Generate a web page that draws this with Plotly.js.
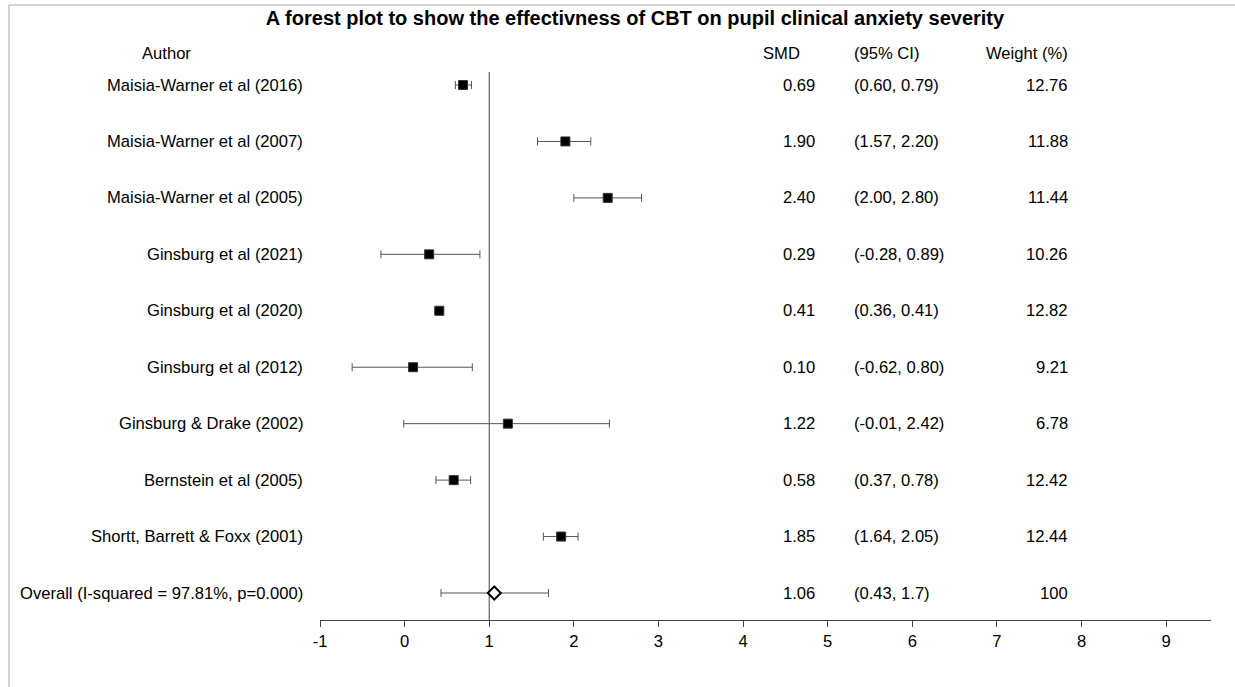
<!DOCTYPE html>
<html>
<head>
<meta charset="utf-8">
<script src="https://cdn.plot.ly/plotly-3.0.1.min.js"></script>
<style>
  html, body { margin: 0; padding: 0; background: #fff; }
  #chart { width: 1235px; height: 687px; }
</style>
</head>
<body>
<div id="chart"></div>
<script>
// ---- Data ----
const authors = [
  "Maisia-Warner et al (2016)",
  "Maisia-Warner et al (2007)",
  "Maisia-Warner et al (2005)",
  "Ginsburg et al (2021)",
  "Ginsburg et al (2020)",
  "Ginsburg et al (2012)",
  "Ginsburg & Drake (2002)",
  "Bernstein et al (2005)",
  "Shortt, Barrett & Foxx (2001)"
];
const smd    = [0.69, 1.90, 2.40, 0.29, 0.41, 0.10, 1.22, 0.58, 1.85];
const lower  = [0.60, 1.57, 2.00, -0.28, 0.36, -0.62, -0.01, 0.37, 1.64];
const upper  = [0.79, 2.20, 2.80, 0.89, 0.41, 0.80, 2.42, 0.78, 2.05];
const weight = [12.76, 11.88, 11.44, 10.26, 12.82, 9.21, 6.78, 12.42, 12.44];

const overallLabel = "Overall (I-squared = 97.81%, p=0.000)";
const overallSmd = 1.06;
const overallLower = 0.43;
const overallUpper = 1.7;
const overallWeight = 100;

const headers = { author: "Author", smd: "SMD", ci: "(95% CI)", weight: "Weight (%)" };
const tickVals = [-1, 0, 1, 2, 3, 4, 5, 6, 7, 8, 9];
const chartTitle = "A forest plot to show the effectivness of CBT on pupil clinical anxiety severity";

// ---- Layout helpers ----
const W = 1235, H = 687;
const M = { l: 320, r: 24, t: 72, b: 67 };
const plotW = W - M.l - M.r, plotH = H - M.t - M.b;
const px2paperX = p => (p - M.l) / plotW;
const py2paperY = p => (H - M.b - p) / plotH;

const FONT = "Liberation Sans, Arial, sans-serif";
const fs = 16.6;

const rowY = authors.map((_, i) => -i);
const overallY = -authors.length;

const fmt2 = v => v.toFixed(2);
const smdText = smd.map(fmt2);
const ciText = lower.map((l, i) => "(" + fmt2(l) + ", " + fmt2(upper[i]) + ")");
const weightText = weight.map(fmt2);

const traces = [
  {
    type: "scatter", mode: "markers",
    x: smd, y: rowY,
    marker: { symbol: "square", size: 9, color: "#000", line: { color: "#333", width: 1 } },
    error_x: {
      type: "data", symmetric: false,
      array: upper.map((u, i) => u - smd[i]),
      arrayminus: lower.map((l, i) => smd[i] - l),
      color: "#555", thickness: 1, width: 4
    },
    showlegend: false
  },
  {
    type: "scatter", mode: "markers",
    x: [overallSmd], y: [overallY],
    marker: { symbol: "diamond", size: 10, color: "#fff", line: { color: "#000", width: 2 } },
    error_x: {
      type: "data", symmetric: false,
      array: [overallUpper - overallSmd],
      arrayminus: [overallSmd - overallLower],
      color: "#555", thickness: 1, width: 4
    },
    showlegend: false
  }
];

const ann = [];
const txt = (text, x, y, xanchor, xref, yref) => ann.push({
  text, x, y, xref: xref || "paper", yref: yref || "y", xanchor, yanchor: "middle",
  showarrow: false, font: { family: FONT, size: fs, color: "#000" }
});

authors.forEach((a, i) => {
  txt(a, px2paperX(305), rowY[i], "right");
  txt(smdText[i], px2paperX(817), rowY[i], "right");
  txt(ciText[i], px2paperX(852), rowY[i], "left");
  txt(weightText[i], px2paperX(1070), rowY[i], "right");
});
txt(overallLabel, px2paperX(305), overallY, "right");
txt(fmt2(overallSmd), px2paperX(817), overallY, "right");
txt("(" + fmt2(overallLower) + ", " + String(overallUpper) + ")", px2paperX(852), overallY, "left");
txt(String(overallWeight), px2paperX(1070), overallY, "right");

const hy = py2paperY(53);
txt(headers.author, px2paperX(166), hy, "center", "paper", "paper");
txt(headers.smd, px2paperX(781), hy, "center", "paper", "paper");
txt(headers.ci, px2paperX(852), hy, "left", "paper", "paper");
txt(headers.weight, px2paperX(1070), hy, "right", "paper", "paper");

const rowPx = plotH / 9.708;
const yMin = overallY - (620 - 593) / rowPx;
const yMax = (85 - M.t) / rowPx;

const layout = {
  width: W, height: H,
  margin: M,
  paper_bgcolor: "#fff", plot_bgcolor: "#fff",
  title: {
    text: "<b>" + chartTitle + "</b>",
    font: { family: FONT, size: 20, color: "#000" },
    x: 635 / W, xref: "container", xanchor: "center",
    y: 1 - 18 / H, yref: "container", yanchor: "middle"
  },
  xaxis: {
    range: [-1, 9.53], tickvals: tickVals, ticktext: tickVals.map(String),
    showgrid: false, zeroline: false, showline: true,
    linecolor: "#444", linewidth: 1, ticks: "outside", ticklen: 6, tickcolor: "#444",
    tickfont: { family: FONT, size: fs, color: "#000" }, fixedrange: true
  },
  yaxis: {
    range: [yMin, yMax], visible: false, showgrid: false, zeroline: false, fixedrange: true
  },
  annotations: ann,
  shapes: [
    { type: "line", xref: "x", yref: "paper", x0: 1, x1: 1, y0: 0, y1: 1,
      line: { color: "#444", width: 1 }, layer: "below" },
    { type: "rect", xref: "paper", yref: "paper",
      x0: px2paperX(9), x1: px2paperX(1245), y0: py2paperY(5), y1: py2paperY(700),
      line: { color: "#aaa", width: 1 }, fillcolor: "rgba(0,0,0,0)", layer: "below" }
  ]
};

Plotly.newPlot("chart", traces, layout, { displayModeBar: false, staticPlot: true });
</script>
</body>
</html>
